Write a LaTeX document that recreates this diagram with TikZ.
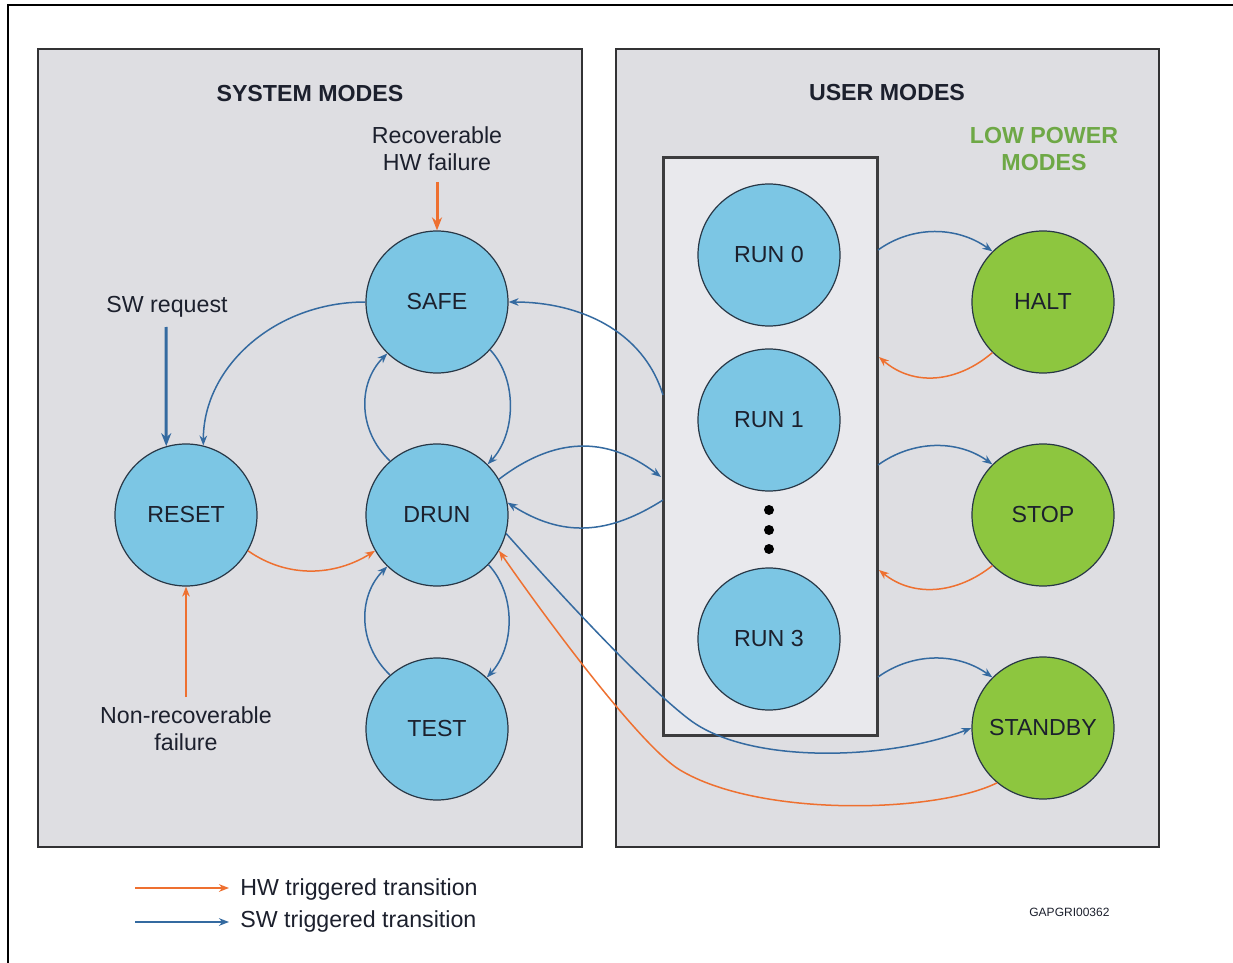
\documentclass[tikz,border=0pt]{standalone}
\usepackage{fontspec}
\setmainfont{Liberation Sans}
\usetikzlibrary{arrows.meta}
\definecolor{stblue}{RGB}{124,198,228}
\definecolor{stgreen}{RGB}{141,198,63}
\definecolor{panelfill}{RGB}{222,222,226}
\definecolor{boxfill}{RGB}{233,233,237}
\definecolor{panelc}{RGB}{50,50,52}
\definecolor{boxc}{RGB}{60,60,62}
\definecolor{edgec}{RGB}{40,55,70}
\definecolor{txtc}{RGB}{28,32,45}
\definecolor{swc}{RGB}{52,106,160}
\definecolor{hwc}{RGB}{238,112,48}
\definecolor{lpgreen}{RGB}{110,168,70}
\begin{document}
\begin{tikzpicture}[x=0.5pt,y=-0.5pt,
  lbl/.style={font=\fontsize{11.6}{13.5}\selectfont,text=txtc,align=center,inner sep=0pt},
  ttl/.style={font=\bfseries\fontsize{11.6}{13.5}\selectfont,text=txtc,align=center,inner sep=0pt},
  bstate/.style={circle,draw=edgec,line width=0.6pt,fill=stblue,minimum size=71pt,inner sep=0pt,font=\fontsize{11.6}{13.5}\selectfont,text=txtc},
  gstate/.style={bstate,fill=stgreen},
  panel/.style={draw=panelc,line width=1pt,fill=panelfill},
  runbox/.style={draw=boxc,line width=1.5pt,fill=boxfill,minimum width=107pt,minimum height=288.5pt,inner sep=0pt},
  sw/.style={draw=swc,line width=0.75pt,-{Stealth[length=5pt,width=3.8pt]}},
  hw/.style={draw=hwc,line width=0.75pt,-{Stealth[length=5pt,width=3.8pt]}},
  swthick/.style={draw=swc,line width=1.5pt,-{Stealth[length=6.5pt,width=5pt]}},
  hwthick/.style={draw=hwc,line width=1.5pt,-{Stealth[length=6.5pt,width=5pt]}},
  dotn/.style={circle,fill=black,minimum size=5pt,inner sep=0pt}
]
\useasboundingbox (0,0) rectangle (1233,963);
\fill[white] (0,0) rectangle (1233,963);
% outer frame
\draw[line width=1pt,black] (8,963) -- (8,5) -- (1233,5);
% panels
\draw[panel] (38,49) rectangle (582,847);
\draw[panel] (616,49) rectangle (1159,847);
\node[runbox] (box) at (770,446.5) {};
% titles
\node[ttl] (systitle) at (310,94) {SYSTEM MODES};
\node[ttl] (usrtitle) at (887,93) {USER MODES};
\node[ttl,text=lpgreen] (lptitle) at (1044,149) {LOW POWER\\MODES};
% labels
\node[lbl] (recov) at (437,149) {Recoverable\\HW failure};
\node[lbl] (swreq) at (167,307) {SW request};
\node[lbl] (nonrec) at (186,729) {Non-recoverable\\failure};
% states
\node[bstate] (safe) at (437,302) {SAFE};
\node[bstate] (reset) at (186,515) {RESET};
\node[bstate] (drun) at (437,515) {DRUN};
\node[bstate] (test) at (437,729) {TEST};
\node[bstate] (run0) at (769,255) {RUN 0};
\node[bstate] (run1) at (769,420) {RUN 1};
\node[bstate] (run3) at (769,639) {RUN 3};
\node[gstate] (halt) at (1043,302) {HALT};
\node[gstate] (stop) at (1043,515) {STOP};
\node[gstate] (standby) at (1043,728) {STANDBY};
\node[dotn] (dot1) at (769,510) {};
\node[dotn] (dot2) at (769,530) {};
\node[dotn] (dot3) at (769,549) {};
% helper coordinates
\coordinate (rhw) at (437,182);
\coordinate (swtop) at (166,327);
\coordinate (nrtop) at (186,697);
\coordinate (bxin) at (661,477);
\coordinate (bxout) at (663,500);
\coordinate (bxsafe) at (663,395);
\coordinate (dsvia) at (690,720);
\coordinate (hsvia) at (680,770);
\coordinate (bh0) at (878,250);
\coordinate (bh1) at (879,357);
\coordinate (bs0) at (878,465);
\coordinate (bs1) at (879,570);
\coordinate (bb0) at (878,677);
% external triggers
\draw[hwthick] (rhw) -- (safe.north);
\draw[swthick] (swtop) -- (reset.106);
\draw[hw] (nrtop) -- (reset.south);
% system mode transitions
\draw[sw] (safe.180) .. controls +(-90,0) and +(0,-79) .. (reset.76);
\draw[sw] (drun.131) .. controls +(-32,-30) and +(-30,30) .. (safe.226);
\draw[sw] (safe.-42) .. controls +(28,30) and +(28,-30) .. (drun.45);
\draw[sw] (test.131) .. controls +(-32,-30) and +(-30,30) .. (drun.226);
\draw[sw] (drun.-44) .. controls +(28,30) and +(28,-30) .. (test.46);
\draw[hw] (reset.-30) .. controls +(40,28) and +(-40,25) .. (drun.210);
% system <-> user
\draw[sw] (drun.30) .. controls +(55,-42) and +(-55,-42) .. (bxin);
\draw[sw] (bxout) .. controls +(-55,35) and +(55,35) .. (drun.10);
\draw[sw] (bxsafe) .. controls +(-20,-65) and +(70,0) .. (safe.0);
\draw[sw] (drun.-15) .. controls +(55,62) and +(-45,-34) .. (dsvia)
  .. controls +(60,45) and +(-82,32) .. (standby.180);
\draw[hw] (standby.230) .. controls +(-60,30) and +(80,48) .. (hsvia)
  .. controls +(-40,-24) and +(45,65) .. (drun.-30);
% low power
\draw[sw] (bh0) .. controls +(35,-25) and +(-35,-25) .. (halt.135);
\draw[hw] (halt.225) .. controls +(-35,30) and +(35,30) .. (bh1);
\draw[sw] (bs0) .. controls +(35,-25) and +(-35,-25) .. (stop.135);
\draw[hw] (stop.225) .. controls +(-35,28) and +(35,28) .. (bs1);
\draw[sw] (bb0) .. controls +(35,-25) and +(-35,-25) .. (standby.135);
% legend
\coordinate (lh1) at (135,888);
\coordinate (lh2) at (229,888);
\coordinate (ls1) at (135,922);
\coordinate (ls2) at (229,922);
\draw[hw,line width=1pt] (lh1) -- (lh2);
\draw[sw,line width=1pt] (ls1) -- (ls2);
\node[lbl,anchor=west] (lht) at (240,889) {HW triggered transition};
\node[lbl,anchor=west] (lst) at (240,921) {SW triggered transition};
\node[font=\fontsize{6}{7}\selectfont,text=txtc,anchor=west,inner sep=0pt] (gid) at (1029,912) {GAPGRI00362};
\end{tikzpicture}
\end{document}
